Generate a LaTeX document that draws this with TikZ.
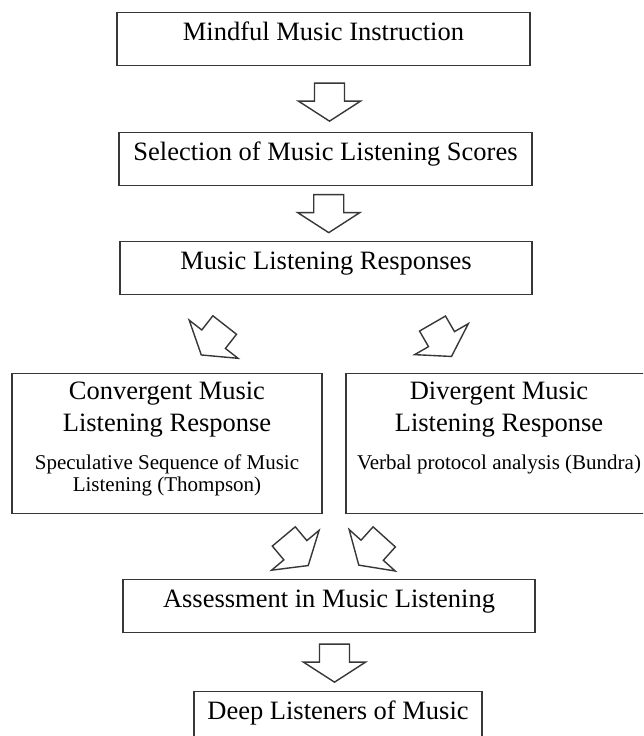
\documentclass[tikz,border=0pt]{standalone}
\usepackage{fontspec}
\setmainfont{Liberation Serif}
\usepackage{xcolor}
\usepackage{tikz}
\usetikzlibrary{calc}
\definecolor{boxline}{RGB}{55, 55, 55}
\newcommand{\titlesize}{\fontsize{26.5}{32}\selectfont}
\newcommand{\notesize}{\fontsize{21}{22}\selectfont}
\tikzset{
    flowbox/.style={draw=boxline, line width=1.3pt, anchor=north, inner xsep=4pt, inner ysep=10pt,
        text height=18pt, text depth=15pt, font=\titlesize},
    sidebox/.style={draw=boxline, line width=1.3pt, anchor=north, inner xsep=4pt, inner ysep=8pt},
    arrowline/.style={draw=boxline, line width=1.4pt, line join=miter, fill=white},
    hollowarrow/.pic={
        \path[arrowline] (-15,-19) -- (15,-19) -- (15,-1) -- (31,-1) -- (0,19)
            -- (-31,-1) -- (-15,-1) -- cycle;
    }
}

\begin{document}
\begin{tikzpicture}[x=1pt, y=-1pt]
    \fill[white] (0,0) rectangle (643,736);
    \path[use as bounding box] (0,0) rectangle (643,736);
    \clip (0,0) rectangle (643,736);

    % main column
    \node[flowbox, minimum width=413pt] (instr) at (323.5,12) {Mindful Music Instruction};
    \node[flowbox, minimum width=413pt] (select) at (325.5,132) {Selection of Music Listening Scores};
    \node[flowbox, minimum width=412pt] (resp) at (326,241) {Music Listening Responses};

    % the two kinds of response
    \node[sidebox, minimum width=310pt] (conv) at (167,373) {
        \begin{minipage}[t][124pt][t]{300pt}
            \centering
            {\titlesize Convergent Music\\ Listening Response\par}
            \vspace{16pt}
            {\notesize Speculative Sequence of Music\\ Listening (Thompson)\par}
        \end{minipage}
    };
    \node[sidebox, minimum width=306pt] (diverg) at (499,373) {
        \begin{minipage}[t][124pt][t]{298pt}
            \centering
            {\titlesize Divergent Music\\ Listening Response\par}
            \vspace{16pt}
            {\notesize Verbal protocol analysis (Bundra)\par}
        \end{minipage}
    };

    \node[flowbox, minimum width=412pt] (assess) at (329,579) {Assessment in Music Listening};
    \node[flowbox, minimum width=288pt] (deep) at (338,691) {Deep Listeners of Music};

    % block arrows
    \pic at ($(instr.south)!0.5!(select.north)+(5,3)$) {hollowarrow};
    \pic at ($(select.south)!0.5!(resp.north)+(3,0)$) {hollowarrow};
    \pic[rotate=-38] at (213,340) {hollowarrow};
    \pic[rotate=30] at (442,340) {hollowarrow};
    \pic[rotate=40] at (296,551) {hollowarrow};
    \pic[rotate=-42] at (371.5,551) {hollowarrow};
    \pic at ($(assess.south)!0.5!(deep.north)+(1,1)$) {hollowarrow};
\end{tikzpicture}
\end{document}
